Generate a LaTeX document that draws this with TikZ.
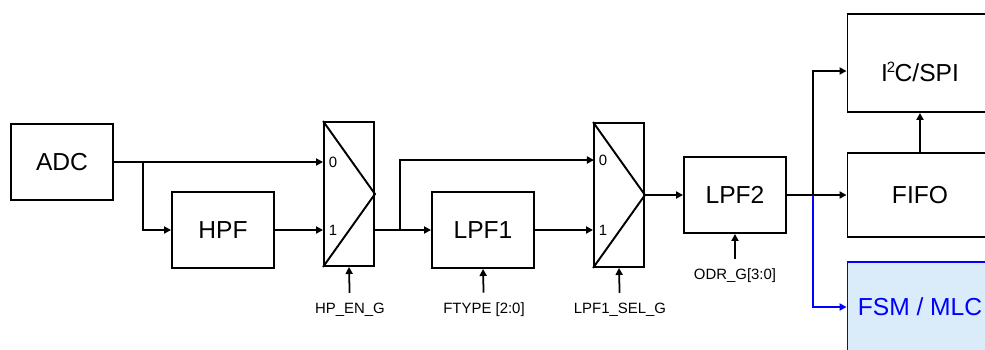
\documentclass[tikz,border=0pt]{standalone}
\usepackage{fontspec}
\setmainfont{Liberation Sans}
\usetikzlibrary{arrows.meta}
\definecolor{fsmfill}{RGB}{218,236,250}
\definecolor{fsmblue}{RGB}{0,0,255}
\newcommand{\suptwo}{\kern-0.04em\raisebox{0.36em}{\fontsize{8.5}{9}\selectfont 2}\kern-0.02em}
\tikzset{
  blk/.style={draw, line width=1.1pt, minimum width=2.04cm, minimum height=1.52cm,
    font=\fontsize{14}{16}\selectfont},
  mux/.style={draw, line width=1.1pt, minimum width=1cm, minimum height=2.88cm},
  rbox/.style={draw, line width=1.1pt, minimum width=2.9cm,
    font=\fontsize{14}{16}\selectfont},
  sig/.style={font=\fontsize{8.5}{10}\selectfont, inner sep=0.2cm},
  pin/.style={font=\fontsize{8.5}{10}\selectfont, inner sep=0pt},
  wire/.style={line width=1pt, -{Triangle[length=4pt,width=4pt]}}
}
\begin{document}
\begin{tikzpicture}[x=0.02cm, y=-0.02cm]
      \useasboundingbox (0,0) rectangle (985,349);
      \clip (0,0) rectangle (985,349);
      \node[blk] (adc) at (62,162) {ADC};
      \node[blk] (hpf) at (223,230) {HPF};
      \node[mux] (m1) at (349,194) {};
      \node[blk] (lpf1) at (483,230) {LPF1};
      \node[mux] (m2) at (619,195) {};
      \node[blk] (lpf2) at (735,195) {LPF2};
      \node[rbox, minimum height=1.96cm,
        label={[font=\fontsize{14}{16}\selectfont, yshift=-0.18cm]center:I\suptwo C/SPI}]
        (i2c) at (920,63) {};
      \node[rbox, minimum height=1.68cm] (fifo) at (920,195) {FIFO};
      \node[rbox, draw=fsmblue, fill=fsmfill, text=fsmblue, minimum height=1.8cm]
        (fsm) at (920,307) {FSM / MLC};
      \node[pin] (m1p0) at (333,162) {0};
      \node[pin] (m1p1) at (333,230) {1};
      \node[pin] (m2p0) at (603,160) {0};
      \node[pin] (m2p1) at (603,230) {1};
      \node[sig] (hpen) at (350,310) {HP\_EN\_G};
      \node[sig] (ftype) at (484,310) {FTYPE [2:0]};
      \node[sig] (lsel) at (620,310) {LPF1\_SEL\_G};
      \node[sig] (odr) at (735,276) {ODR\_G[3:0]};
      \coordinate (j1) at (143,162);
      \coordinate (j2) at (400,230);
      \coordinate (j3) at (813,195);
      \coordinate (m2in0) at (594,160);
      \draw[line width=1.1pt] (m1.north west) -- (m1.east) -- (m1.south west);
      \draw[line width=1.1pt] (m2.north west) -- (m2.east) -- (m2.south west);
      \begin{scope}[wire]
        \draw (adc.east) -- (adc.east -| m1.west);
        \draw (j1) |- (hpf.west);
        \draw (hpf.east) -- (hpf.east -| m1.west);
        \draw (lpf1.west -| m1.east) -- (lpf1.west);
        \draw (j2) |- (m2in0);
        \draw (lpf1.east) -- (lpf1.east -| m2.west);
        \draw (m2.east) -- (lpf2.west);
        \draw (lpf2.east) -- (lpf2.east -| fifo.west);
        \draw (j3) |- ([yshift=-0.16cm]i2c.west);
        \draw (fifo.north) -- (i2c.south);
        \draw[fsmblue] (j3) |- (fsm.west);
        \draw (hpen) -- (m1.south);
        \draw (ftype) -- (lpf1.south);
        \draw (lsel) -- (m2.south);
        \draw (odr) -- (lpf2.south);
      \end{scope}
    \end{tikzpicture}
\end{document}
